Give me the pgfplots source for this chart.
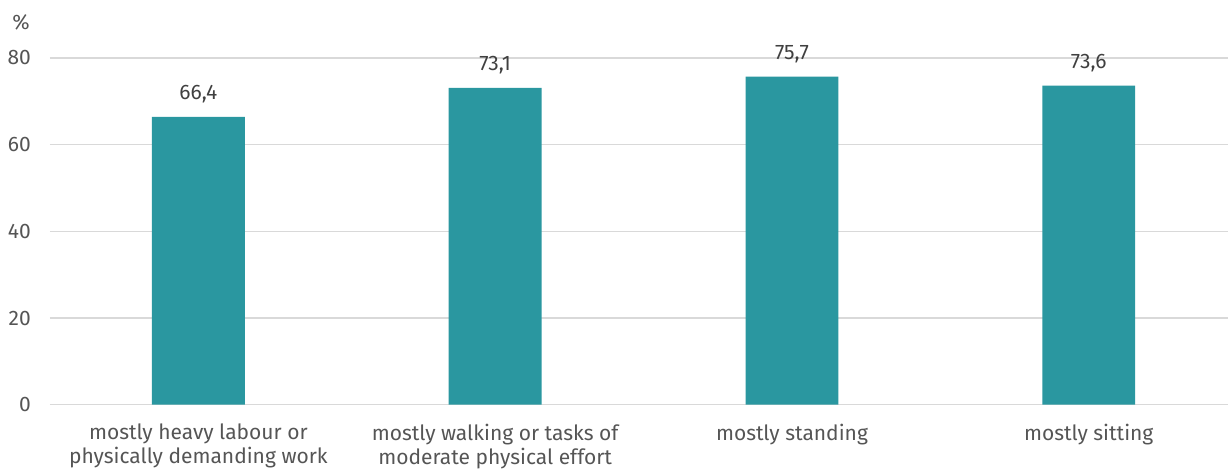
\documentclass[border=0pt]{standalone}
\usepackage{pgfplots}
\pgfplotsset{compat=1.18}
\usepackage{fontspec}
\setmainfont{Fira Sans}
\definecolor{barc}{HTML}{2A97A0}
\definecolor{txt}{HTML}{404040}
\definecolor{tick}{HTML}{555555}
\definecolor{gridc}{HTML}{D9D9D9}
\begin{document}
\begin{tikzpicture}
\fontsize{21pt}{23pt}\selectfont
\begin{axis}[
  scale only axis, width=1179pt, height=347pt,
  xmin=-0.5, xmax=3.47, ymin=0, ymax=80,
  ybar, bar width=0.313,
  axis line style={draw=none},
  ytick={0,20,40,60,80},
  ymajorgrids, xmajorgrids=false, grid style={draw=gridc, line width=1.5pt},
  major tick length=0pt,
  xtick={0,1,2,3},
  xticklabels={{mostly heavy labour or\\physically demanding work},{mostly walking or tasks of\\moderate physical effort},{mostly standing},{mostly sitting}},
  xticklabel style={align=center, text=tick, font=\fontsize{21pt}{24pt}\selectfont, anchor=north, yshift=-19pt, inner sep=0pt},
  yticklabel style={text=tick, font=\fontsize{21pt}{23pt}\selectfont, anchor=east, inner sep=0pt, xshift=-19pt},
  /pgf/number format/assume math mode=true,
  nodes near coords,
  nodes near coords style={text=txt, font=\fontsize{21pt}{23pt}\selectfont, anchor=base, inner sep=0pt, yshift=17.5pt, /pgf/number format/.cd, fixed, fixed zerofill, precision=1, use comma, assume math mode=true},
  clip=false,
]
\addplot[fill=barc, draw=none] coordinates {(0,66.4) (1,73.1) (2,75.7) (3,73.6)};
\end{axis}
\node[text=tick, font=\fontsize{21pt}{23pt}\selectfont] at (-29pt,382.5pt) {\%};
\path[use as bounding box] (-50pt,-61pt) rectangle (1179pt,405pt);
\end{tikzpicture}
\end{document}
